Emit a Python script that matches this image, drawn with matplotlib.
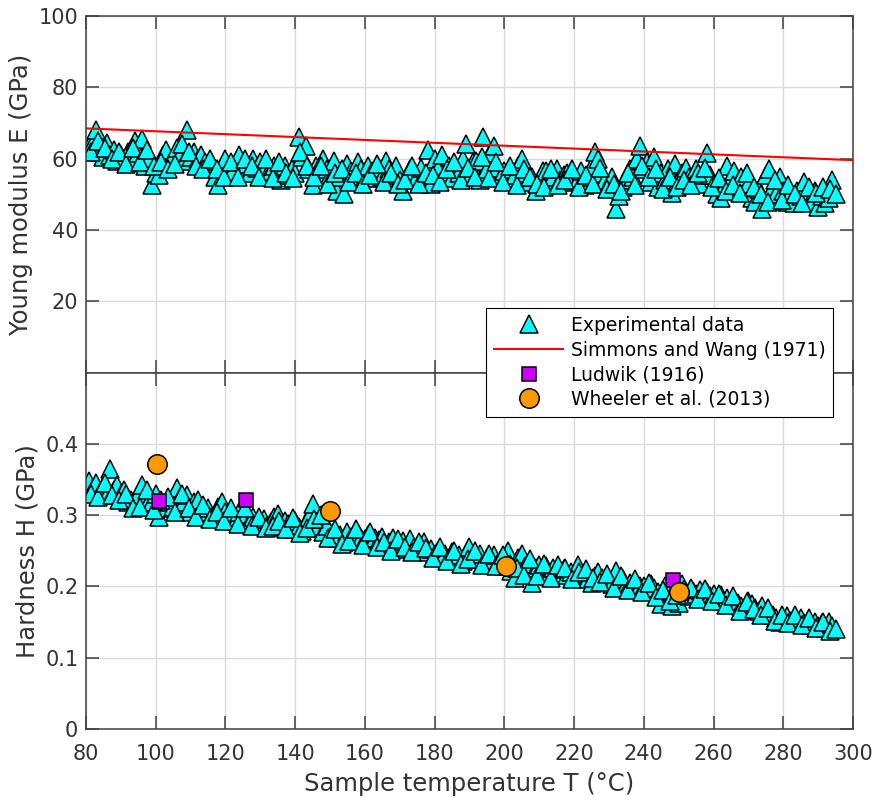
"""
Young modulus and hardness versus sample temperature, two stacked panels
sharing the temperature axis, with literature values for comparison.
"""
import matplotlib
matplotlib.use("Agg")
from matplotlib import pyplot as plt
from matplotlib.ticker import FuncFormatter

# experimental data, first pass: temperature (degC), modulus (GPa), hardness (GPa)
temp_a = [81, 82, 83, 84, 85, 86, 87, 88, 89, 90,
          91, 92, 93, 94, 95, 96, 97, 98, 99, 100,
          101, 102, 103, 104, 105, 106, 107, 108, 109, 110,
          111, 112, 113, 114, 115, 116, 117, 118, 119, 120,
          121, 122, 123, 124, 125, 126, 127, 128, 129, 130,
          131, 132, 133, 134, 135, 136, 137, 138, 139, 140,
          141, 142, 143, 144, 145, 146, 147, 148, 149, 150,
          151, 152, 153, 154, 155, 156, 157, 158, 159, 160,
          161, 162, 163, 164, 165, 166, 167, 168, 169, 170,
          171, 172, 173, 174, 175, 176, 177, 178, 179, 180,
          181, 182, 183, 184, 185, 186, 187, 188, 189, 190,
          191, 192, 193, 194, 195, 196, 197, 198, 199, 200,
          201, 202, 203, 204, 205, 206, 207, 208, 209, 210,
          211, 212, 213, 214, 215, 216, 217, 218, 219, 220,
          221, 222, 223, 224, 225, 226, 227, 228, 229, 230,
          231, 232, 233, 234, 235, 236, 237, 238, 239, 240,
          241, 242, 243, 244, 245, 246, 247, 248, 249, 250,
          251, 252, 253, 254, 255, 256, 257, 258, 259, 260,
          261, 262, 263, 264, 265, 266, 267, 268, 269, 270,
          271, 272, 273, 274, 275, 276, 277, 278, 279, 280,
          281, 282, 283, 284, 285, 286, 287, 288, 289, 290,
          291, 292, 293, 294]
young_a = [63.5, 64.5, 68.0, 62.0, 60.5, 64.5, 61.0, 62.5, 59.5, 61.0,
           60.0, 62.0, 59.0, 65.0, 61.5, 65.5, 58.0, 60.0, 52.5, 56.0,
           55.5, 61.0, 62.5, 59.0, 60.5, 63.0, 61.0, 59.5, 68.0, 60.5,
           62.0, 60.0, 61.0, 59.0, 58.0, 59.5, 55.0, 52.5, 58.0, 60.0,
           57.0, 56.0, 59.0, 61.0, 57.0, 58.5, 56.0, 60.0, 57.5, 59.0,
           57.0, 55.5, 56.5, 58.0, 56.0, 54.0, 58.0, 55.5, 57.0, 56.0,
           66.0, 60.5, 63.5, 57.0, 52.5, 58.0, 56.0, 60.0, 57.0, 55.5,
           59.5, 51.0, 55.0, 50.0, 58.5, 56.5, 54.0, 59.0, 57.0, 55.0,
           58.0, 56.5, 54.5, 57.5, 55.0, 59.5, 57.0, 55.5, 58.0, 54.0,
           51.0, 55.0, 57.0, 56.5, 55.0, 57.5, 54.0, 62.5, 53.0, 60.0,
           57.0, 61.0, 55.0, 58.0, 54.5, 57.5, 56.0, 60.0, 64.0, 55.5,
           59.0, 59.5, 54.0, 66.0, 57.0, 61.5, 63.5, 57.5, 55.0, 56.5,
           54.5, 57.0, 55.5, 58.0, 60.0, 56.0, 53.5, 55.0, 51.0, 54.0,
           56.5, 56.5, 53.0, 55.0, 57.0, 54.0, 55.5, 56.0, 53.5, 55.0,
           54.0, 56.5, 52.5, 55.0, 58.0, 62.0, 60.0, 56.0, 54.0, 53.0,
           55.0, 46.0, 49.5, 52.0, 54.0, 57.0, 55.0, 60.0, 63.5, 57.0,
           59.0, 53.5, 60.5, 52.0, 56.0, 54.0, 57.0, 50.5, 58.5, 53.0,
           56.0, 57.5, 55.0, 54.0, 57.0, 53.0, 55.5, 61.5, 55.5, 53.0,
           50.0, 49.0, 52.0, 58.0, 54.0, 56.5, 53.5, 55.0, 51.0, 53.0,
           49.0, 48.0, 51.5, 46.0, 55.5, 57.0, 52.0, 50.0, 55.0, 51.0,
           48.0, 50.0, 47.5, 51.0, 49.5, 53.5, 50.0, 48.0, 51.0, 46.5,
           49.5, 47.5, 49.0, 54.0]
hardness_a = [0.348, 0.338, 0.345, 0.332, 0.340, 0.328, 0.365, 0.336, 0.342, 0.330,
              0.335, 0.318, 0.322, 0.315, 0.328, 0.342, 0.325, 0.320, 0.318, 0.330,
              0.298, 0.315, 0.310, 0.318, 0.312, 0.338, 0.325, 0.318, 0.328, 0.305,
              0.318, 0.322, 0.300, 0.305, 0.310, 0.298, 0.300, 0.312, 0.318, 0.305,
              0.295, 0.300, 0.292, 0.305, 0.298, 0.302, 0.292, 0.298, 0.290, 0.288,
              0.295, 0.285, 0.290, 0.298, 0.302, 0.284, 0.292, 0.288, 0.280, 0.292,
              0.283, 0.278, 0.290, 0.298, 0.316, 0.282, 0.295, 0.276, 0.285, 0.270,
              0.274, 0.268, 0.272, 0.262, 0.276, 0.270, 0.272, 0.275, 0.268, 0.266,
              0.272, 0.262, 0.268, 0.265, 0.270, 0.258, 0.262, 0.268, 0.255, 0.260,
              0.264, 0.252, 0.266, 0.256, 0.250, 0.258, 0.262, 0.248, 0.252, 0.246,
              0.250, 0.242, 0.245, 0.240, 0.248, 0.238, 0.244, 0.236, 0.246, 0.255,
              0.242, 0.238, 0.246, 0.232, 0.240, 0.236, 0.244, 0.232, 0.238, 0.228,
              0.250, 0.222, 0.212, 0.240, 0.246, 0.228, 0.232, 0.205, 0.226, 0.230,
              0.224, 0.228, 0.220, 0.226, 0.222, 0.218, 0.224, 0.216, 0.220, 0.215,
              0.230, 0.212, 0.218, 0.210, 0.205, 0.215, 0.220, 0.212, 0.208, 0.210,
              0.204, 0.222, 0.206, 0.210, 0.202, 0.205, 0.198, 0.204, 0.200, 0.200,
              0.196, 0.204, 0.198, 0.192, 0.175, 0.200, 0.195, 0.172, 0.198, 0.176,
              0.204, 0.192, 0.186, 0.194, 0.190, 0.195, 0.188, 0.192, 0.186, 0.190,
              0.182, 0.188, 0.180, 0.184, 0.178, 0.182, 0.176, 0.172, 0.168, 0.180,
              0.175, 0.170, 0.166, 0.172, 0.162, 0.165, 0.160, 0.156, 0.150, 0.154,
              0.158, 0.152, 0.156, 0.150, 0.155, 0.148, 0.152, 0.146, 0.150, 0.144,
              0.148, 0.142, 0.150, 0.145]

# experimental data, second pass (in between the first-pass temperatures)
temp_b = [81.5, 83.5, 85.5, 87.5, 89.5, 91.5, 93.5, 95.5, 97.5, 99.5,
          101.5, 103.5, 105.5, 107.5, 109.5, 111.5, 113.5, 115.5, 117.5, 119.5,
          121.5, 123.5, 125.5, 127.5, 129.5, 131.5, 133.5, 135.5, 137.5, 139.5,
          141.5, 143.5, 145.5, 147.5, 149.5, 151.5, 153.5, 155.5, 157.5, 159.5,
          161.5, 163.5, 165.5, 167.5, 169.5, 171.5, 173.5, 175.5, 177.5, 179.5,
          181.5, 183.5, 185.5, 187.5, 189.5, 191.5, 193.5, 195.5, 197.5, 199.5,
          201.5, 203.5, 205.5, 207.5, 209.5, 211.5, 213.5, 215.5, 217.5, 219.5,
          221.5, 223.5, 225.5, 227.5, 229.5, 231.5, 233.5, 235.5, 237.5, 239.5,
          241.5, 243.5, 245.5, 247.5, 249.5, 251.5, 253.5, 255.5, 257.5, 259.5,
          261.5, 263.5, 265.5, 267.5, 269.5, 271.5, 273.5, 275.5, 277.5, 279.5,
          281.5, 283.5, 285.5, 287.5, 289.5, 291.5, 293.5, 295.0]
young_b = [62.0, 65.0, 63.0, 60.0, 62.0, 58.5, 63.0, 59.0, 62.5, 58.0,
           59.0, 57.0, 58.5, 64.0, 62.0, 58.0, 57.0, 60.0, 57.0, 55.0,
           59.0, 55.0, 60.0, 58.0, 55.0, 60.0, 54.5, 59.0, 56.0, 54.5,
           62.0, 58.0, 55.0, 58.0, 53.0, 56.0, 57.0, 53.5, 56.0, 53.0,
           55.5, 58.5, 53.5, 56.0, 53.0, 54.0, 58.0, 53.0, 56.0, 55.5,
           53.5, 57.0, 59.0, 54.0, 57.5, 55.0, 60.5, 54.5, 59.0, 53.5,
           58.0, 52.5, 57.0, 55.0, 53.0, 52.0, 57.0, 52.5, 54.0, 57.0,
           52.0, 55.5, 53.0, 57.5, 51.5, 53.0, 51.0, 56.0, 52.5, 58.0,
           55.0, 57.0, 51.5, 55.0, 52.0, 54.0, 52.5, 56.0, 57.5, 52.0,
           54.5, 51.0, 52.5, 50.5, 56.0, 52.0, 50.0, 48.0, 54.0, 48.5,
           52.5, 50.0, 47.5, 52.0, 50.5, 52.0, 51.5, 50.0]
hardness_b = [0.330, 0.325, 0.345, 0.328, 0.322, 0.330, 0.310, 0.312, 0.335, 0.308,
              0.322, 0.325, 0.305, 0.330, 0.310, 0.298, 0.315, 0.295, 0.305, 0.292,
              0.310, 0.288, 0.310, 0.285, 0.298, 0.282, 0.285, 0.292, 0.280, 0.296,
              0.275, 0.282, 0.295, 0.300, 0.268, 0.280, 0.260, 0.264, 0.280, 0.258,
              0.276, 0.256, 0.262, 0.250, 0.266, 0.256, 0.248, 0.262, 0.254, 0.240,
              0.256, 0.236, 0.250, 0.232, 0.238, 0.250, 0.230, 0.246, 0.228, 0.244,
              0.232, 0.226, 0.216, 0.238, 0.215, 0.232, 0.212, 0.230, 0.226, 0.210,
              0.220, 0.225, 0.212, 0.206, 0.218, 0.198, 0.215, 0.195, 0.210, 0.192,
              0.205, 0.185, 0.195, 0.180, 0.188, 0.196, 0.198, 0.183, 0.196, 0.180,
              0.190, 0.174, 0.186, 0.166, 0.178, 0.168, 0.160, 0.170, 0.152, 0.160,
              0.148, 0.160, 0.146, 0.156, 0.142, 0.150, 0.138, 0.140]

# Simmons and Wang (1971) modulus trend
sw_T = [80, 300]
sw_E = [68.5, 59.6]

# Ludwik (1916) hardness
ludwik_T = [101, 126, 248.5]
ludwik_H = [0.320, 0.321, 0.209]

# Wheeler et al. (2013) hardness
wheeler_T = [100.5, 150, 200.5, 250]
wheeler_H = [0.372, 0.306, 0.229, 0.192]

x_ticks = [80, 100, 120, 140, 160, 180, 200, 220, 240, 260, 280, 300]
E_ticks = [20, 40, 60, 80, 100]
H_ticks = [0, 0.1, 0.2, 0.3, 0.4]

axis_grey = '#404040'


def style_axes(ax):
    """
    MATLAB-like look: inward ticks on every side, light grid, grey frame
    """
    for spine in ax.spines.values():
        spine.set_color(axis_grey)
        spine.set_linewidth(1.1)
    ax.tick_params(direction='in', length=9.5, width=1.1, color=axis_grey,
                   labelcolor='#333333', labelsize=15,
                   top=True, right=True)
    ax.tick_params(axis='x', pad=11)
    ax.tick_params(axis='y', pad=5.5)
    ax.grid(True, color='#dadada', linewidth=1.0)
    ax.set_axisbelow(True)
    ax.set_xlim(80, 300)
    ax.set_xticks(x_ticks)


def plot():
    fig = plt.figure(figsize=(8.72, 8.0), dpi=100)
    ax_E = fig.add_axes([0.0986, 0.534, 0.8796, 0.446])
    ax_H = fig.add_axes([0.0986, 0.089, 0.8796, 0.445])

    tri = dict(marker='^', linestyle='none', markersize=13.5,
               markerfacecolor='#00ffff', markeredgecolor='black',
               markeredgewidth=1.1)

    # top panel: Young modulus
    h_exp, = ax_E.plot(temp_a, young_a, label='Experimental data', **tri)
    ax_E.plot(temp_b, young_b, **tri)
    h_sw, = ax_E.plot(sw_T, sw_E, color='#ff0000', linewidth=1.5,
                      label='Simmons and Wang (1971)')
    style_axes(ax_E)
    ax_E.set_ylim(0, 100)
    ax_E.set_yticks(E_ticks)
    ax_E.tick_params(axis='x', labelbottom=False)
    ax_E.set_ylabel('Young modulus E (GPa)', fontsize=17.5, color='#333333')

    # bottom panel: hardness
    ax_H.plot(temp_a, hardness_a, **tri)
    ax_H.plot(temp_b, hardness_b, **tri)
    h_lud, = ax_H.plot(ludwik_T, ludwik_H, marker='s', linestyle='none',
                       markersize=10, markerfacecolor='#cc00ff',
                       markeredgecolor='black', markeredgewidth=1.1,
                       label='Ludwik (1916)')
    h_wh, = ax_H.plot(wheeler_T, wheeler_H, marker='o', linestyle='none',
                      markersize=14, markerfacecolor='#ff9900',
                      markeredgecolor='black', markeredgewidth=1.1,
                      label='Wheeler et al. (2013)')
    style_axes(ax_H)
    ax_H.set_ylim(0, 0.5)
    ax_H.set_yticks(H_ticks)
    ax_H.yaxis.set_major_formatter(FuncFormatter(lambda v, p: f'{v:g}'))
    ax_H.set_ylabel('Hardness H (GPa)', fontsize=17.5, color='#333333')
    ax_H.set_xlabel('Sample temperature T (\u00b0C)', fontsize=17.5,
                    color='#333333', labelpad=6)

    # legend straddles both panels, so it belongs to the figure
    leg = fig.legend(handles=[h_exp, h_sw, h_lud, h_wh], loc='upper left',
                     bbox_to_anchor=(486 / 872, 1 - 308 / 800),
                     fontsize=13.5, frameon=True, fancybox=False,
                     edgecolor='black', framealpha=1.0, numpoints=1,
                     borderpad=0.42, labelspacing=0.3, handlelength=3.7,
                     handletextpad=0.4, borderaxespad=0)
    leg.get_frame().set_linewidth(0.8)

    fig.savefig('out.png', dpi=100)


if __name__ == '__main__':
    plot()
